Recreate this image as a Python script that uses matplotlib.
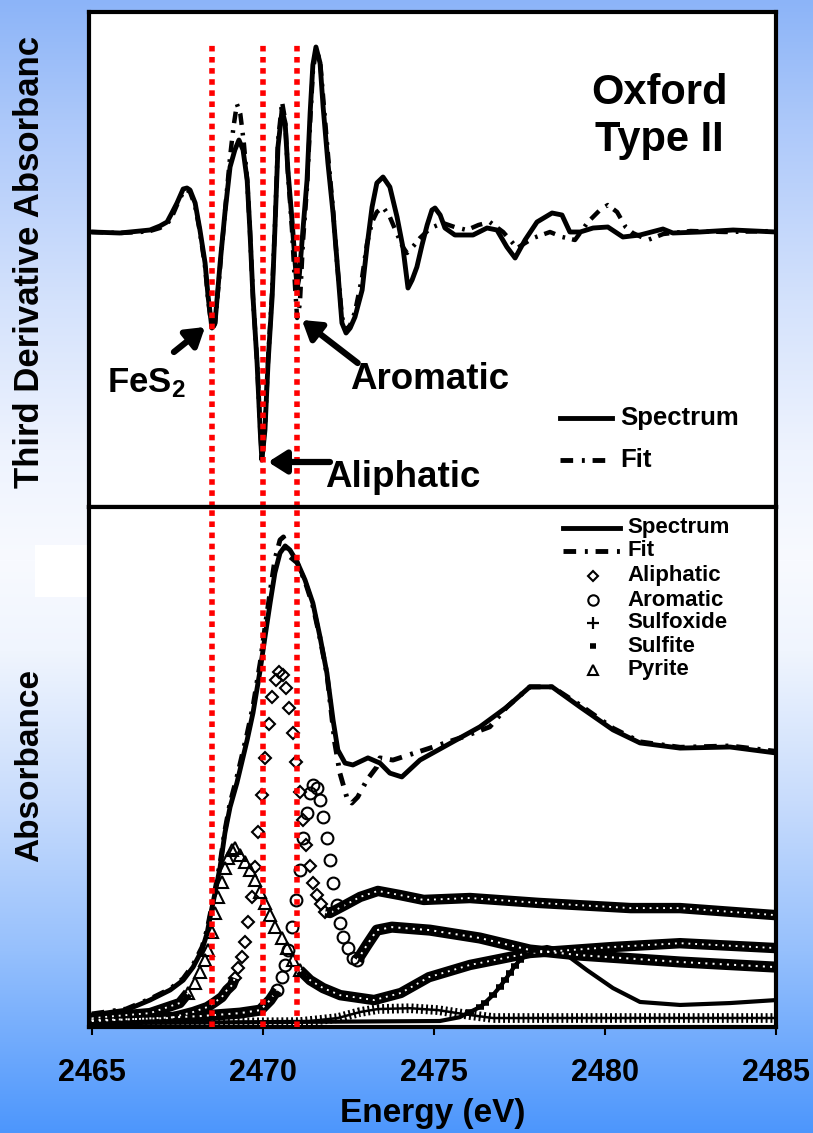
import numpy as np
import matplotlib
matplotlib.use("Agg")
import matplotlib.pyplot as plt
from matplotlib.lines import Line2D
from matplotlib.patches import Rectangle
from matplotlib.transforms import Bbox, TransformedBbox

plt.rcParams['font.family'] = ['Liberation Sans', 'DejaVu Sans']
plt.rcParams['font.weight'] = 'bold'
plt.rcParams['axes.labelweight'] = 'bold'
plt.rcParams['mathtext.fontset'] = 'custom'
plt.rcParams['mathtext.rm'] = 'Liberation Sans:bold'
plt.rcParams['mathtext.it'] = 'Liberation Sans:bold'
plt.rcParams['mathtext.bf'] = 'Liberation Sans:bold'

# ---------------- data ----------------
# top panel: third derivative of the absorbance
d3_energy = [2465.00, 2465.82, 2466.41, 2466.70, 2466.99, 2467.20, 2467.34, 2467.49, 2467.67, 2467.78,
             2467.87, 2468.02, 2468.16, 2468.31, 2468.40, 2468.51, 2468.60, 2468.75, 2468.89, 2469.04,
             2469.18, 2469.30, 2469.42, 2469.54, 2469.62, 2469.71, 2469.83, 2469.92, 2469.97, 2470.06,
             2470.15, 2470.27, 2470.35, 2470.44, 2470.56, 2470.65, 2470.73, 2470.85, 2470.94, 2471.00,
             2471.06, 2471.17, 2471.29, 2471.38, 2471.46, 2471.55, 2471.67, 2471.76, 2471.90, 2472.05,
             2472.17, 2472.31, 2472.43, 2472.55, 2472.69, 2472.90, 2473.04, 2473.19, 2473.33, 2473.51,
             2473.71, 2473.92, 2474.09, 2474.24, 2474.36, 2474.50, 2474.65, 2474.80, 2474.94, 2475.03,
             2475.18, 2475.32, 2475.61, 2476.14, 2476.55, 2476.84, 2477.13, 2477.37, 2477.66, 2478.01,
             2478.45, 2478.74, 2478.97, 2479.27, 2479.65, 2480.08, 2480.52, 2481.02, 2481.69, 2481.98,
             2482.77, 2483.74, 2485.00]
d3_spectrum = [0.00, -0.01, 0.01, 0.02, 0.06, 0.10, 0.19, 0.29, 0.43, 0.44,
               0.42, 0.29, 0.02, -0.31, -0.65, -0.96, -0.91, -0.31, 0.19, 0.65,
               0.82, 0.92, 0.82, 0.52, 0.02, -0.65, -1.31, -1.98, -2.28, -1.98,
               -1.31, -0.65, 0.02, 0.85, 1.22, 1.09, 0.62, 0.12, -0.30, -0.56,
               -0.45, 0.02, 0.52, 1.19, 1.67, 1.85, 1.69, 1.25, 0.69, 0.19,
               -0.31, -0.91, -1.01, -0.96, -0.85, -0.58, -0.15, 0.25, 0.49, 0.55,
               0.45, 0.15, -0.15, -0.56, -0.48, -0.35, -0.13, 0.07, 0.22, 0.24,
               0.17, 0.04, -0.03, -0.03, 0.04, 0.02, -0.15, -0.26, -0.08, 0.10,
               0.19, 0.17, 0.00, 0.00, 0.04, 0.05, -0.05, -0.03, 0.03, -0.01,
               0.00, 0.02, 0.00]

d3_fit_energy = [2465.00, 2465.82, 2466.41, 2466.70, 2466.99, 2467.20, 2467.34, 2467.49, 2467.67, 2467.78,
                 2467.87, 2468.02, 2468.16, 2468.31, 2468.40, 2468.51, 2468.60, 2468.75, 2468.89, 2469.04,
                 2469.14, 2469.24, 2469.34, 2469.44, 2469.54, 2469.62, 2469.71, 2469.83, 2469.92, 2469.97,
                 2470.06, 2470.15, 2470.27, 2470.35, 2470.44, 2470.56, 2470.65, 2470.73, 2470.85, 2470.94,
                 2471.00, 2471.08, 2471.17, 2471.29, 2471.38, 2471.46, 2471.55, 2471.67, 2471.76, 2471.90,
                 2472.05, 2472.17, 2472.31, 2472.43, 2472.55, 2472.69, 2472.90, 2473.04, 2473.19, 2473.33,
                 2473.51, 2473.71, 2473.92, 2474.09, 2474.21, 2474.40, 2474.59, 2474.90, 2475.26, 2475.60,
                 2475.96, 2476.30, 2476.63, 2477.02, 2477.43, 2477.90, 2478.39, 2478.75, 2479.12, 2479.50,
                 2479.85, 2480.08, 2480.35, 2480.60, 2480.81, 2481.25, 2481.70, 2482.50, 2483.50, 2485.00]
d3_fit = [0.00, -0.01, 0.00, 0.01, 0.04, 0.08, 0.15, 0.27, 0.40, 0.42,
          0.40, 0.26, 0.00, -0.35, -0.68, -0.98, -0.92, -0.35, 0.20, 0.75,
          1.05, 1.28, 1.18, 0.90, 0.52, 0.02, -0.65, -1.30, -1.96, -2.26,
          -1.96, -1.28, -0.60, 0.05, 0.90, 1.30, 1.12, 0.60, 0.02, -0.55,
          -0.86, -0.72, -0.10, 0.45, 1.10, 1.60, 1.82, 1.72, 1.35, 0.78,
          0.22, -0.32, -0.85, -0.98, -0.93, -0.80, -0.45, -0.12, 0.10, 0.20,
          0.25, 0.15, -0.02, -0.15, -0.21, -0.14, -0.06, 0.04, 0.09, 0.05,
          0.02, 0.07, 0.10, 0.00, -0.16, -0.06, 0.00, -0.05, -0.08, 0.10,
          0.22, 0.27, 0.20, 0.05, -0.01, -0.08, -0.02, 0.01, 0.00, 0.01]

# bottom panel: normalised absorbance
abs_energy = [2465.00, 2466.00, 2466.70, 2467.29, 2467.67, 2467.96, 2468.22, 2468.37, 2468.48, 2468.60,
              2468.75, 2468.89, 2469.04, 2469.24, 2469.54, 2469.71, 2469.92, 2470.06, 2470.21, 2470.35,
              2470.50, 2470.65, 2470.79, 2471.00, 2471.23, 2471.46, 2471.67, 2471.87, 2472.05, 2472.19,
              2472.40, 2472.63, 2473.07, 2473.42, 2473.71, 2474.06, 2474.59, 2475.38, 2476.34, 2477.13,
              2477.80, 2478.45, 2479.27, 2480.23, 2481.02, 2482.19, 2483.65, 2485.00]
abs_spectrum = [0.026, 0.044, 0.081, 0.118, 0.154, 0.202, 0.265, 0.327, 0.401, 0.474,
                0.570, 0.695, 0.790, 0.879, 1.037, 1.136, 1.294, 1.415, 1.540, 1.651,
                1.724, 1.750, 1.735, 1.691, 1.625, 1.540, 1.415, 1.283, 1.110, 1.000,
                0.952, 0.945, 0.971, 0.952, 0.915, 0.901, 0.963, 1.018, 1.085, 1.158,
                1.232, 1.232, 1.158, 1.074, 1.026, 1.007, 1.011, 0.989]

fit_energy = [2465.00, 2466.00, 2466.70, 2467.29, 2467.67, 2467.96, 2468.22, 2468.37, 2468.48, 2468.60,
              2468.75, 2468.89, 2469.04, 2469.24, 2469.54, 2469.71, 2469.92, 2470.06, 2470.21, 2470.35,
              2470.50, 2470.60, 2470.79, 2471.00, 2471.23, 2471.46, 2471.67, 2471.87, 2472.10, 2472.25,
              2472.45, 2472.60, 2472.77, 2473.04, 2473.33, 2473.42, 2473.80, 2474.88, 2475.85, 2476.63,
              2477.13, 2477.80, 2478.45, 2479.27, 2480.23, 2481.02, 2482.19, 2483.65, 2485.00]
abs_fit = [0.030, 0.048, 0.085, 0.122, 0.160, 0.210, 0.275, 0.340, 0.410, 0.485,
           0.585, 0.705, 0.805, 0.900, 1.060, 1.160, 1.320, 1.450, 1.580, 1.700,
           1.772, 1.783, 1.710, 1.688, 1.620, 1.530, 1.410, 1.280, 1.026, 0.915,
           0.827, 0.805, 0.827, 0.890, 0.938, 0.971, 0.963, 1.007, 1.048, 1.085,
           1.158, 1.232, 1.232, 1.165, 1.080, 1.030, 1.010, 1.015, 0.995]

aliph_energy = [2465.00, 2467.29, 2467.96, 2468.37, 2468.60, 2468.80, 2468.95, 2469.10, 2469.18, 2469.27,
                2469.39, 2469.48, 2469.56, 2469.68, 2469.77, 2469.85, 2469.97, 2470.06, 2470.18, 2470.27,
                2470.38, 2470.47, 2470.59, 2470.67, 2470.76, 2470.88, 2470.97, 2471.08, 2471.17, 2471.26,
                2471.38, 2471.46, 2471.58, 2471.70, 2471.82, 2471.96, 2472.40, 2472.84, 2473.36, 2474.00,
                2474.70, 2476.05, 2478.06, 2480.75, 2482.19, 2485.00]
aliph_abs = [0.007, 0.015, 0.037, 0.055, 0.074, 0.092, 0.118, 0.136, 0.162, 0.199,
             0.239, 0.294, 0.368, 0.460, 0.570, 0.699, 0.835, 0.971, 1.096, 1.195,
             1.257, 1.287, 1.276, 1.228, 1.154, 1.063, 0.956, 0.846, 0.743, 0.651,
             0.574, 0.511, 0.467, 0.434, 0.404, 0.401, 0.430, 0.460, 0.482, 0.467,
             0.449, 0.456, 0.438, 0.419, 0.419, 0.393]

arom_energy = [2465.00, 2468.16, 2469.33, 2469.92, 2470.21, 2470.41, 2470.56, 2470.65, 2470.73, 2470.85,
               2470.97, 2471.08, 2471.17, 2471.29, 2471.38, 2471.46, 2471.58, 2471.67, 2471.76, 2471.87,
               2471.96, 2472.05, 2472.17, 2472.26, 2472.35, 2472.49, 2472.64, 2472.76, 2473.04, 2473.33,
               2473.77, 2474.88, 2476.34, 2477.80, 2479.27, 2482.19, 2485.00]
arom_abs = [0.004, 0.022, 0.033, 0.044, 0.081, 0.118, 0.165, 0.210, 0.265, 0.349,
            0.449, 0.559, 0.676, 0.768, 0.842, 0.871, 0.860, 0.816, 0.754, 0.676,
            0.596, 0.511, 0.430, 0.364, 0.313, 0.272, 0.235, 0.228, 0.283, 0.338,
            0.349, 0.338, 0.309, 0.265, 0.246, 0.221, 0.202]

sulfox_energy = [2465.00, 2471.08, 2472.19, 2472.84, 2473.36, 2474.30, 2475.12, 2476.05, 2476.72, 2485.00]
sulfox_abs = [-0.004, 0.000, 0.015, 0.037, 0.048, 0.051, 0.044, 0.026, 0.015, 0.015]

sulfite_energy = [2465.00, 2475.17, 2475.75, 2476.05, 2476.34, 2476.48, 2476.72, 2476.92, 2477.07, 2477.22,
                  2477.36, 2477.51, 2477.71, 2477.89, 2478.30, 2478.68, 2479.47, 2480.23, 2481.02, 2482.19,
                  2483.65, 2485.00]
sulfite_abs = [-0.004, 0.004, 0.018, 0.037, 0.055, 0.070, 0.099, 0.129, 0.154, 0.180,
               0.206, 0.228, 0.246, 0.265, 0.276, 0.265, 0.191, 0.125, 0.074, 0.063,
               0.070, 0.081]

pyrite_energy = [2465.00, 2466.70, 2467.57, 2467.81, 2468.02, 2468.16, 2468.31, 2468.40, 2468.51, 2468.60,
                 2468.69, 2468.80, 2468.89, 2468.98, 2469.10, 2469.18, 2469.33, 2469.48, 2469.62, 2469.77,
                 2469.92, 2470.06, 2470.21, 2470.35, 2470.56, 2470.71, 2470.88, 2471.08, 2471.38, 2471.76,
                 2472.26, 2473.25, 2474.03, 2474.85, 2476.05, 2477.80, 2480.23, 2482.19, 2485.00]
pyrite_abs = [0.015, 0.033, 0.070, 0.107, 0.143, 0.184, 0.228, 0.265, 0.331, 0.401,
              0.460, 0.515, 0.566, 0.603, 0.632, 0.640, 0.614, 0.588, 0.559, 0.522,
              0.478, 0.438, 0.393, 0.349, 0.309, 0.272, 0.228, 0.191, 0.154, 0.125,
              0.099, 0.081, 0.107, 0.165, 0.210, 0.254, 0.276, 0.290, 0.272]

peak_positions = [2468.5, 2470.0, 2471.0]   # FeS2, aliphatic, aromatic
energy_ticks = [2465, 2470, 2475, 2480, 2485]

# ---------------- layout helpers (pixels of the 813x1133 picture) ----------------
W, H = 813, 1133


def fx(x):
    return x / W


def fy(y):
    return 1 - y / H


FIT_DASHES = (2.6, 1.8, 0.6, 1.6)
RED = '#ff0000'

fig = plt.figure(figsize=(W / 100, H / 100), dpi=100)

# slide-like background gradient
bg = fig.add_axes([0, 0, 1, 1], zorder=-10)
stop_y = [0, 120, 300, 450, 560, 650, 800, 950, 1133]
stop_c = np.array([[140, 180, 248], [172, 200, 250], [212, 226, 252], [238, 243, 254],
                   [248, 250, 255], [240, 245, 254], [200, 220, 252], [150, 192, 252],
                   [76, 150, 252]]) / 255.0
rows = np.arange(H)
grad = np.stack([np.interp(rows, stop_y, stop_c[:, i]) for i in range(3)], axis=-1)[:, None, :]
bg.imshow(grad, aspect='auto', extent=[0, 1, 0, 1], origin='upper')
bg.add_patch(Rectangle((fx(35), fy(597)), fx(88) - fx(35), fy(545) - fy(597), color='white', lw=0))
bg.set_xlim(0, 1)
bg.set_ylim(0, 1)
bg.axis('off')

x_left, x_right = 2464.918, 2485.0
ax_top = fig.add_axes([fx(89), fy(507), fx(776.2) - fx(89), fy(12) - fy(507)])
ax_bot = fig.add_axes([fx(89), fy(1027), fx(776.2) - fx(89), fy(507) - fy(1027)])

for ax in (ax_top, ax_bot):
    ax.set_xlim(x_left, x_right)
    ax.set_facecolor('white')
    ax.set_yticks([])
    for s in ax.spines.values():
        s.set_linewidth(3)
        s.set_color('black')

ax_top.set_ylim(-2.75, 2.20)
ax_bot.set_ylim(-0.018, 1.893)

# ---------------- top panel ----------------
ax_top.set_xticks([])
ax_top.plot(d3_fit_energy, d3_fit, color='k', lw=3.2, dashes=FIT_DASHES, zorder=3)
ax_top.plot(d3_energy, d3_spectrum, color='k', lw=3.5, zorder=4)
for e in peak_positions:
    ax_top.axvline(e, ymax=0.933, color=RED, lw=4, dashes=(1, 1), zorder=6)

arrow_kw = dict(arrowstyle='-|>,head_length=0.6,head_width=0.38', color='k', lw=4.5,
                mutation_scale=18, shrinkA=0, shrinkB=0)
ax_top.annotate('', xy=(2468.31, -0.95), xytext=(2467.40, -1.20), arrowprops=arrow_kw, zorder=7)
ax_top.annotate('', xy=(2471.14, -0.88), xytext=(2472.77, -1.31), arrowprops=arrow_kw, zorder=7)
ax_top.annotate('', xy=(2470.15, -2.30), xytext=(2471.96, -2.30), arrowprops=arrow_kw, zorder=7)

ax_top.text(2465.44, -1.60, 'FeS$_2$', fontsize=25, ha='left', va='baseline')
ax_top.text(2472.54, -1.57, 'Aromatic', fontsize=26.5, ha='left', va='baseline')
ax_top.text(2471.81, -2.55, 'Aliphatic', fontsize=26.5, ha='left', va='baseline')

fig.text(fx(659), fy(104), 'Oxford', fontsize=30, ha='center', va='baseline')
fig.text(fx(659), fy(151), 'Type II', fontsize=30, ha='center', va='baseline')

fig.add_artist(Line2D([fx(560), fx(612)], [fy(418)] * 2, color='k', lw=3.5))
fig.text(fx(620), fy(418), 'Spectrum', fontsize=18.5, ha='left', va='center')
fig.add_artist(Line2D([fx(560), fx(612)], [fy(460)] * 2, color='k', lw=3.5, dashes=FIT_DASHES))
fig.text(fx(620), fy(460), 'Fit', fontsize=18.5, ha='left', va='center')

# ---------------- bottom panel ----------------


def band(ax, e, a, width):
    # densely overlapping open markers read as a dark speckled band
    ax.plot(e, a, color='k', lw=width, solid_capstyle='butt', zorder=2)
    ax.plot(e, a, color='white', lw=width * 0.18, dashes=(1.0, 2.6), zorder=2.1)


def component(ax, energy, absorb, marker, ms, lo, hi, width):
    e = np.asarray(energy)
    a = np.asarray(absorb)
    left = e <= lo + 1e-6
    right = e >= hi - 1e-6
    pts = ~left & ~right | (np.isclose(e, lo)) | (np.isclose(e, hi))
    band(ax, e[left], a[left], width)
    band(ax, e[right], a[right], width)
    ax.plot(e[pts], a[pts], ls='none', marker=marker, ms=ms, mfc='none', mec='k', mew=1.5, zorder=3)


component(ax_bot, aliph_energy, aliph_abs, 'D', 6.5, 2469.18, 2471.82, 7.5)
component(ax_bot, arom_energy, arom_abs, 'o', 8.5, 2470.41, 2472.76, 8.0)
component(ax_bot, pyrite_energy, pyrite_abs, '^', 8.5, 2467.81, 2471.08, 7.5)

# sulfoxide: crosses packed together
ax_bot.plot(sulfox_energy, sulfox_abs, color='k', lw=1.8, zorder=2)
ax_bot.plot(sulfox_energy, sulfox_abs, color='k', lw=7, dashes=(0.2, 0.3), zorder=2)

# sulfite: short dashes, separate only on the steep rise
se = np.asarray(sulfite_energy)
sa = np.asarray(sulfite_abs)
ax_bot.plot(se, sa, color='k', lw=3.0, zorder=2)
rise = (se >= 2476.0) & (se <= 2477.9)
ax_bot.plot(se[rise], sa[rise], ls='none', marker='_', ms=6, mew=4, color='k', zorder=3)

ax_bot.plot(fit_energy, abs_fit, color='k', lw=3.5, dashes=FIT_DASHES, zorder=4)
ax_bot.plot(abs_energy, abs_spectrum, color='k', lw=3.5, zorder=4)
for e in peak_positions:
    ax_bot.axvline(e, color=RED, lw=4, dashes=(1, 1), zorder=6)

ax_bot.set_xticks(energy_ticks)
ax_bot.set_xticklabels([str(t) for t in energy_ticks])
ax_bot.tick_params(axis='x', direction='out', length=6, width=1.5, pad=16, labelsize=22)
ax_bot.set_xlabel('Energy (eV)', fontsize=24, fontweight='bold')
ax_bot.xaxis.set_label_coords(0.5, -0.1365)

# bottom legend
fig.add_artist(Line2D([fx(563), fx(620)], [fy(528)] * 2, color='k', lw=3.5))
fig.add_artist(Line2D([fx(563), fx(620)], [fy(551)] * 2, color='k', lw=3.5, dashes=FIT_DASHES))
legend_rows = [('Aliphatic', 'D', 5.5, 1.5), ('Aromatic', 'o', 7.5, 1.5), ('Sulfoxide', '+', 9, 1.6),
               ('Sulfite', '_', 5, 4), ('Pyrite', '^', 7, 1.5)]
row_y = [576, 600, 623, 646, 670]
for (label, mk, ms, mew), y in zip(legend_rows, row_y):
    fig.add_artist(Line2D([fx(593)], [fy(y)], ls='none', marker=mk, ms=ms, mew=mew,
                          mfc='none', mec='k', color='k'))
for label, y in zip(['Spectrum', 'Fit'] + [r[0] for r in legend_rows], [528, 551] + row_y):
    fig.text(fx(627), fy(y), label, fontsize=16, ha='left', va='center')

# y labels (the upper one runs off the top of the slide in the original)
t1 = fig.text(fx(30), fy(252), 'Third Derivative Absorbance', fontsize=25, rotation=90,
              ha='center', va='center')
t1.set_clip_box(TransformedBbox(Bbox.from_extents(0, 0, 1, fy(37)), fig.transFigure))
t1.set_clip_on(True)
fig.text(fx(30), fy(765), 'Absorbance', fontsize=24, rotation=90, ha='center', va='center')

fig.savefig('out.png', dpi=100)
